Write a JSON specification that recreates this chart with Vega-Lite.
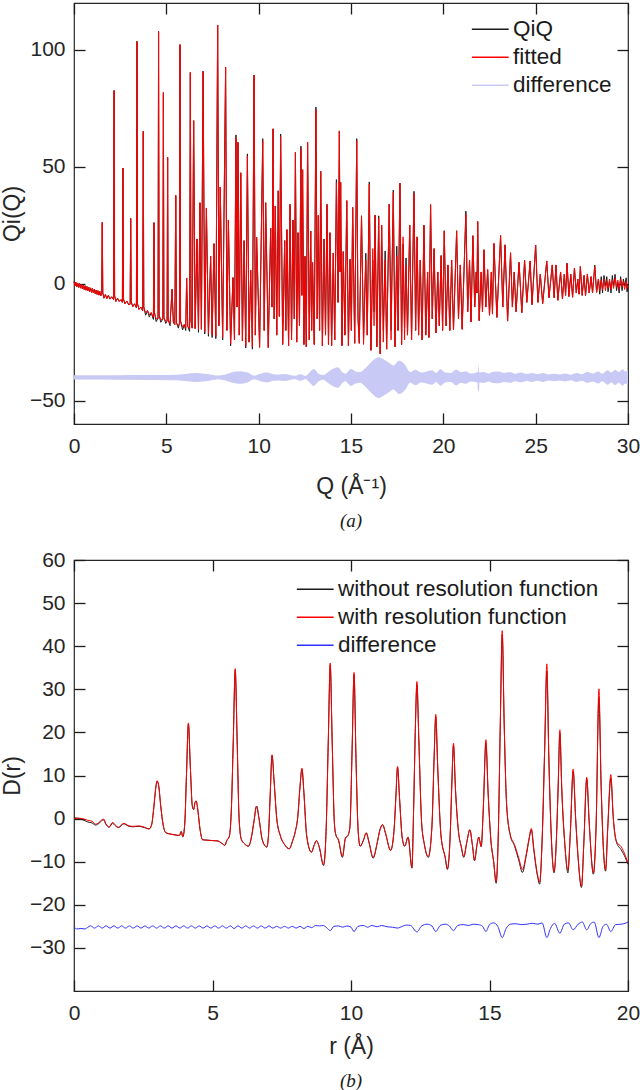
{
  "$schema": "https://vega.github.io/schema/vega-lite/v6.json",
  "background": "white",
  "padding": {"left": 0, "top": 1, "right": 0, "bottom": 0},
  "spacing": 16,
  "resolve": {"scale": {"color": "independent"}, "legend": {"color": "independent"}},
  "config": {
    "font": "Liberation Sans",
    "view": {"stroke": "#262626", "strokeWidth": 1.2},
    "axis": {
      "grid": false, "domain": false,
      "labelFont": "Liberation Sans", "labelFontSize": 21, "labelColor": "#262626",
      "labelOverlap": false, "labelFlush": false,
      "titleFont": "Liberation Sans", "titleFontSize": 23, "titleFontWeight": "normal", "titleColor": "#262626"
    },
    "axisX": {"labelPadding": 11},
    "axisY": {"labelPadding": 9},
    "legend": {
      "labelFont": "Liberation Sans", "labelFontSize": 22.5, "labelColor": "#1a1a1a", "labelLimit": 0,
      "symbolType": "M-4.6,0H4.6", "symbolSize": 64, "symbolStrokeWidth": 1.3,
      "labelOffset": 11.5, "rowPadding": 5, "padding": 0
    },
    "title": {"font": "Liberation Serif", "fontStyle": "italic", "fontWeight": "normal", "fontSize": 19, "color": "#1a1a1a"}
  },
  "vconcat": [
    {
      "width": 554,
      "height": 421,
      "title": {"text": "(a)", "orient": "bottom", "offset": 14},
      "resolve": {"axis": {"x": "independent", "y": "independent"}},
      "layer": [
        {
          "data": {"name": "qdiff"},
          "mark": {"type": "area", "interpolate": "monotone", "color": "#c9c9f6"},
          "encoding": {
            "x": {"field": "q", "type": "quantitative", "scale": {"domain": [0, 30]}, "axis": null},
            "y": {"field": "lo", "type": "quantitative", "scale": {"domain": [-55, 115]}, "axis": null},
            "y2": {"field": "hi"}
          }
        },
        {
          "data": {"name": "qdiff"},
          "mark": {"type": "line", "interpolate": "monotone", "strokeWidth": 1},
          "encoding": {
            "x": {"field": "q", "type": "quantitative", "axis": {"orient": "bottom", "offset": -11, "ticks": true, "tickSize": 11, "tickColor": "#1a1a1a", "tickWidth": 1.3, "labels": false, "title": null, "values": [0, 5, 10, 15, 20, 25, 30]}},
            "y": {"field": "lo", "type": "quantitative", "axis": {"orient": "left", "offset": -11, "ticks": true, "tickSize": 11, "tickColor": "#1a1a1a", "tickWidth": 1.3, "labels": false, "title": null, "values": [-50, 0, 50, 100]}},
            "color": {
              "datum": "difference", "type": "nominal",
              "scale": {"domain": ["QiQ", "fitted", "difference"], "range": ["#1a1a1a", "#ff0000", "#c9c9f6"]},
              "legend": {"title": null, "orient": "none", "legendX": 405, "legendY": 15}
            }
          }
        },
        {
          "data": {"name": "qiq"},
          "mark": {"type": "line", "strokeWidth": 1},
          "encoding": {
            "x": {"field": "q", "type": "quantitative", "axis": {"orient": "bottom", "ticks": false, "values": [0, 5, 10, 15, 20, 25, 30], "title": "Q (Å⁻¹)", "titlePadding": 19}},
            "y": {"field": "o", "type": "quantitative", "axis": {"orient": "left", "ticks": false, "values": [-50, 0, 50, 100], "title": "Qi(Q)", "titlePadding": 5}},
            "color": {"datum": "QiQ", "type": "nominal"}
          }
        },
        {
          "data": {"name": "qiq"},
          "mark": {"type": "line", "strokeWidth": 1},
          "encoding": {
            "x": {"field": "q", "type": "quantitative", "axis": {"orient": "top", "offset": -11, "ticks": true, "tickSize": 11, "tickColor": "#1a1a1a", "tickWidth": 1.3, "labels": false, "title": null, "values": [0, 5, 10, 15, 20, 25, 30]}},
            "y": {"field": "f", "type": "quantitative", "axis": {"orient": "right", "offset": -11, "ticks": true, "tickSize": 11, "tickColor": "#1a1a1a", "tickWidth": 1.3, "labels": false, "title": null, "values": [-50, 0, 50, 100]}},
            "color": {"datum": "fitted", "type": "nominal"}
          }
        }
      ]
    },
    {
      "width": 554,
      "height": 431,
      "title": {"text": "(b)", "orient": "bottom", "offset": 14},
      "resolve": {"axis": {"x": "independent", "y": "independent"}},
      "layer": [
        {
          "data": {"name": "dr"},
          "mark": {"type": "line", "interpolate": "monotone", "strokeWidth": 1},
          "encoding": {
            "x": {"field": "r", "type": "quantitative", "scale": {"domain": [0, 20]}, "axis": {"orient": "bottom", "ticks": false, "values": [0, 5, 10, 15, 20], "title": "r (Å)", "titlePadding": 12}},
            "y": {"field": "w", "type": "quantitative", "scale": {"domain": [-35, 60]}, "axis": {"orient": "left", "ticks": false, "values": [-30, -20, -10, 0, 10, 20, 30, 40, 50, 60], "title": "D(r)", "titlePadding": 5}},
            "color": {
              "datum": "without resolution function", "type": "nominal",
              "scale": {"domain": ["without resolution function", "with resolution function", "difference"], "range": ["#1a1a1a", "#ff0000", "#3030ff"]},
              "legend": {"title": null, "orient": "none", "legendX": 230, "legendY": 18}
            }
          }
        },
        {
          "data": {"name": "dr"},
          "mark": {"type": "line", "interpolate": "monotone", "strokeWidth": 1},
          "encoding": {
            "x": {"field": "r", "type": "quantitative", "axis": {"orient": "top", "offset": -11, "ticks": true, "tickSize": 11, "tickColor": "#1a1a1a", "tickWidth": 1.3, "labels": false, "title": null, "values": [0, 5, 10, 15, 20]}},
            "y": {"field": "d", "type": "quantitative", "axis": {"orient": "right", "offset": -11, "ticks": true, "tickSize": 11, "tickColor": "#1a1a1a", "tickWidth": 1.3, "labels": false, "title": null, "values": [-30, -20, -10, 0, 10, 20, 30, 40, 50, 60]}},
            "color": {"datum": "with resolution function", "type": "nominal"}
          }
        },
        {
          "data": {"name": "ddiff"},
          "mark": {"type": "line", "interpolate": "monotone", "strokeWidth": 1},
          "encoding": {
            "x": {"field": "r", "type": "quantitative", "axis": {"orient": "bottom", "offset": -11, "ticks": true, "tickSize": 11, "tickColor": "#1a1a1a", "tickWidth": 1.3, "labels": false, "title": null, "values": [0, 5, 10, 15, 20]}},
            "y": {"field": "v", "type": "quantitative", "axis": {"orient": "left", "offset": -11, "ticks": true, "tickSize": 11, "tickColor": "#1a1a1a", "tickWidth": 1.3, "labels": false, "title": null, "values": [-30, -20, -10, 0, 10, 20, 30, 40, 50, 60]}},
            "color": {"datum": "difference", "type": "nominal"}
          }
        }
      ]
    }
  ],
  "datasets": {
    "qiq": [
      {"q":0.00,"o":0.9,"f":0.9},{"q":0.05,"o":-1.0,"f":-1.0},{"q":0.10,"o":0.6,"f":0.6},{"q":0.15,"o":-1.3,"f":-1.3},
      {"q":0.20,"o":0.3,"f":0.3},{"q":0.25,"o":-1.6,"f":-1.6},{"q":0.30,"o":0.0,"f":0.0},{"q":0.35,"o":-1.9,"f":-1.9},
      {"q":0.40,"o":-0.3,"f":-0.3},{"q":0.45,"o":-2.2,"f":-2.2},{"q":0.50,"o":-0.6,"f":-0.6},{"q":0.55,"o":-2.5,"f":-2.5},
      {"q":0.60,"o":-0.9,"f":-0.9},{"q":0.65,"o":-2.8,"f":-2.8},{"q":0.70,"o":-1.2,"f":-1.2},{"q":0.75,"o":-3.1,"f":-3.1},
      {"q":0.80,"o":-1.5,"f":-1.5},{"q":0.85,"o":-3.4,"f":-3.4},{"q":0.90,"o":-1.8,"f":-1.8},{"q":0.95,"o":-3.7,"f":-3.7},
      {"q":1.00,"o":-2.1,"f":-2.1},{"q":1.05,"o":-4.0,"f":-4.0},{"q":1.10,"o":-2.4,"f":-2.4},{"q":1.15,"o":-4.3,"f":-4.3},
      {"q":1.20,"o":-2.7,"f":-2.7},{"q":1.25,"o":-4.6,"f":-4.6},{"q":1.30,"o":-3.0,"f":-3.0},{"q":1.35,"o":-4.9,"f":-4.9},
      {"q":1.40,"o":-3.3,"f":-3.3},{"q":1.45,"o":-5.2,"f":-5.2},
      {"q":1.50,"o":-4.2,"f":-4.2},{"q":1.53,"o":26.2,"f":26.2},{"q":1.56,"o":-3.8,"f":-3.8},{"q":1.62,"o":-6.2,"f":-6.2},
      {"q":1.70,"o":-4.6,"f":-4.6},{"q":1.78,"o":-6.4,"f":-6.4},{"q":1.86,"o":-5.0,"f":-5.0},{"q":1.95,"o":-6.6,"f":-6.6},
      {"q":2.04,"o":-5.6,"f":-5.6},{"q":2.14,"o":-6.8,"f":-6.8},{"q":2.17,"o":82.6,"f":82.6},{"q":2.20,"o":-5.2,"f":-5.2},
      {"q":2.27,"o":-7.6,"f":-7.6},{"q":2.36,"o":-6.2,"f":-6.2},{"q":2.45,"o":-7.6,"f":-7.6},{"q":2.55,"o":-6.8,"f":-6.8},
      {"q":2.62,"o":-8.0,"f":-8.0},{"q":2.65,"o":49.4,"f":49.4},{"q":2.68,"o":-6.6,"f":-6.6},{"q":2.76,"o":-8.6,"f":-8.6},
      {"q":2.86,"o":-7.4,"f":-7.4},{"q":2.96,"o":-9.0,"f":-9.0},{"q":3.04,"o":-8.8,"f":-8.8},{"q":3.07,"o":27.9,"f":27.9},
      {"q":3.10,"o":-7.8,"f":-7.8},{"q":3.18,"o":-9.8,"f":-9.8},{"q":3.28,"o":-8.6,"f":-8.6},{"q":3.38,"o":-10.3,"f":-10.3},
      {"q":3.41,"o":103.6,"f":103.6},{"q":3.44,"o":-8.6,"f":-8.6},{"q":3.52,"o":-11.0,"f":-11.0},{"q":3.62,"o":-10.0,"f":-10.0},
      {"q":3.72,"o":-11.6,"f":-11.6},{"q":3.75,"o":65.1,"f":65.1},{"q":3.78,"o":-10.0,"f":-10.0},{"q":3.88,"o":-13.5,"f":-12.5},
      {"q":3.98,"o":-11.5,"f":-11.5},{"q":4.08,"o":-14.3,"f":-13.3},{"q":4.18,"o":-12.4,"f":-12.4},{"q":4.30,"o":-15.3,"f":-14.3},
      {"q":4.33,"o":26.1,"f":26.1},{"q":4.36,"o":-12.5,"f":-12.5},{"q":4.45,"o":-16.2,"f":-15.0},{"q":4.55,"o":-14.8,"f":-14.8},
      {"q":4.58,"o":107.8,"f":107.8},{"q":4.61,"o":-13.5,"f":-13.5},{"q":4.70,"o":-16.5,"f":-15.5},{"q":4.81,"o":-15.2,"f":-15.2},
      {"q":4.84,"o":81.7,"f":81.7},{"q":4.87,"o":-14.5,"f":-14.5},{"q":4.97,"o":-17.0,"f":-16.2},{"q":5.04,"o":-16.0,"f":-16.0},
      {"q":5.07,"o":54.0,"f":54.0},{"q":5.10,"o":-15.5,"f":-15.5},{"q":5.20,"o":-18.0,"f":-17.0},{"q":5.31,"o":-2.4,"f":-2.4},
      {"q":5.38,"o":-16.5,"f":-16.5},{"q":5.46,"o":-17.5,"f":-17.5},{"q":5.51,"o":37.7,"f":37.7},{"q":5.55,"o":-16.8,"f":-16.8},
      {"q":5.65,"o":-19.0,"f":-18.0},{"q":5.71,"o":-17.0,"f":-17.0},{"q":5.74,"o":102.2,"f":102.2},{"q":5.77,"o":-16.0,"f":-16.0},
      {"q":5.88,"o":-19.8,"f":-18.6},{"q":5.97,"o":-17.5,"f":-17.5},{"q":6.05,"o":-20.0,"f":-19.0},{"q":6.10,"o":2.3,"f":2.3},
      {"q":6.16,"o":-18.2,"f":-18.2},{"q":6.26,"o":-20.4,"f":-19.4},{"q":6.30,"o":90.3,"f":90.3},{"q":6.34,"o":-16.0,"f":-16.0},
      {"q":6.40,"o":-19.0,"f":-19.0},{"q":6.48,"o":69.7,"f":69.7},{"q":6.56,"o":-19.2,"f":-19.2},{"q":6.66,"o":19.1,"f":19.1},
      {"q":6.74,"o":-20.8,"f":-19.8},{"q":6.82,"o":34.6,"f":34.6},{"q":6.90,"o":-19.5,"f":-19.5},{"q":6.99,"o":90.8,"f":90.8},
      {"q":7.08,"o":-21.5,"f":-20.5},{"q":7.17,"o":32.3,"f":32.3},{"q":7.28,"o":-22.5,"f":-21.5},{"q":7.40,"o":11.7,"f":11.7},
      {"q":7.48,"o":-23.0,"f":-21.8},{"q":7.58,"o":17.1,"f":17.1},{"q":7.68,"o":-23.5,"f":-22.5},{"q":7.78,"o":110.6,"f":110.6},
      {"q":7.85,"o":-18.0,"f":-18.0},{"q":7.92,"o":41.3,"f":41.3},{"q":8.05,"o":-24.0,"f":-23.0},{"q":8.21,"o":92.5,"f":92.5},
      {"q":8.28,"o":-20.0,"f":-20.0},{"q":8.36,"o":27.2,"f":27.2},{"q":8.48,"o":-26.6,"f":-25.8},{"q":8.61,"o":2.6,"f":2.6},
      {"q":8.69,"o":-24.0,"f":-24.0},{"q":8.77,"o":63.6,"f":62.4},{"q":8.83,"o":-10.0,"f":-10.0},{"q":8.88,"o":60.4,"f":60.4},
      {"q":8.95,"o":-22.0,"f":-22.0},{"q":9.03,"o":47.4,"f":47.4},{"q":9.12,"o":-24.5,"f":-24.5},{"q":9.21,"o":18.4,"f":18.4},
      {"q":9.30,"o":-27.5,"f":-26.5},{"q":9.39,"o":55.5,"f":54.5},{"q":9.48,"o":-25.0,"f":-25.0},{"q":9.57,"o":5.7,"f":5.7},
      {"q":9.66,"o":-28.0,"f":-27.0},{"q":9.75,"o":89.1,"f":89.1},{"q":9.82,"o":-22.0,"f":-22.0},{"q":9.89,"o":19.8,"f":19.8},
      {"q":10.05,"o":-27.2,"f":-27.2},{"q":10.22,"o":62.0,"f":61.1},{"q":10.30,"o":-20.0,"f":-20.0},{"q":10.38,"o":34.6,"f":34.6},
      {"q":10.52,"o":-27.3,"f":-27.3},{"q":10.65,"o":23.8,"f":23.8},{"q":10.72,"o":-10.0,"f":-10.0},{"q":10.78,"o":66.2,"f":66.2},
      {"q":10.84,"o":-15.0,"f":-15.0},{"q":10.90,"o":33.2,"f":33.2},{"q":10.98,"o":-22.0,"f":-22.0},{"q":11.06,"o":39.7,"f":39.7},
      {"q":11.12,"o":-14.0,"f":-14.0},{"q":11.19,"o":64.0,"f":62.9},{"q":11.30,"o":-26.0,"f":-26.0},{"q":11.41,"o":18.4,"f":18.4},
      {"q":11.47,"o":-20.0,"f":-20.0},{"q":11.53,"o":23.1,"f":23.1},{"q":11.62,"o":-26.5,"f":-26.5},{"q":11.70,"o":33.9,"f":33.9},
      {"q":11.78,"o":-24.0,"f":-24.0},{"q":11.86,"o":27.2,"f":27.2},{"q":11.93,"o":-15.0,"f":-15.0},{"q":11.99,"o":56.1,"f":56.1},
      {"q":12.06,"o":-25.0,"f":-25.0},{"q":12.13,"o":21.8,"f":21.8},{"q":12.21,"o":-18.0,"f":-18.0},{"q":12.29,"o":58.8,"f":57.7},
      {"q":12.34,"o":-5.0,"f":-5.0},{"q":12.38,"o":48.7,"f":48.7},{"q":12.45,"o":-26.0,"f":-26.0},{"q":12.51,"o":11.7,"f":11.7},
      {"q":12.58,"o":-27.0,"f":-27.0},{"q":12.65,"o":60.4,"f":60.4},{"q":12.74,"o":-24.0,"f":-24.0},{"q":12.82,"o":22.5,"f":22.5},
      {"q":12.87,"o":-20.0,"f":-20.0},{"q":12.92,"o":9.0,"f":9.0},{"q":13.01,"o":-26.0,"f":-26.0},{"q":13.10,"o":75.5,"f":74.3},
      {"q":13.17,"o":-15.0,"f":-15.0},{"q":13.23,"o":29.2,"f":29.2},{"q":13.30,"o":-20.0,"f":-20.0},{"q":13.36,"o":48.0,"f":48.0},
      {"q":13.45,"o":-26.5,"f":-26.5},{"q":13.54,"o":19.1,"f":19.1},{"q":13.62,"o":-22.0,"f":-22.0},{"q":13.70,"o":33.9,"f":33.9},
      {"q":13.78,"o":-26.0,"f":-26.0},{"q":13.86,"o":21.8,"f":21.8},{"q":13.95,"o":-26.5,"f":-26.5},{"q":14.04,"o":13.1,"f":13.1},
      {"q":14.12,"o":-24.0,"f":-24.0},{"q":14.21,"o":44.5,"f":43.3},{"q":14.30,"o":-8.0,"f":-8.0},{"q":14.37,"o":65.3,"f":65.3},
      {"q":14.41,"o":5.0,"f":5.0},{"q":14.44,"o":43.3,"f":43.3},{"q":14.51,"o":-26.5,"f":-26.5},{"q":14.58,"o":13.7,"f":13.7},
      {"q":14.67,"o":-22.0,"f":-22.0},{"q":14.77,"o":35.5,"f":35.5},{"q":14.86,"o":-26.5,"f":-26.5},{"q":14.95,"o":10.4,"f":10.4},
      {"q":15.02,"o":-20.0,"f":-20.0},{"q":15.09,"o":32.6,"f":32.6},{"q":15.20,"o":-25.5,"f":-25.5},{"q":15.31,"o":62.0,"f":61.2},
      {"q":15.38,"o":-15.0,"f":-15.0},{"q":15.45,"o":-25.5,"f":-25.5},{"q":15.57,"o":29.0,"f":29.0},{"q":15.68,"o":-24.0,"f":-26.0},
      {"q":15.80,"o":13.0,"f":10.0},{"q":15.88,"o":-22.0,"f":-22.0},{"q":15.99,"o":43.5,"f":42.5},{"q":16.08,"o":-28.5,"f":-28.5},
      {"q":16.18,"o":10.0,"f":15.0},{"q":16.25,"o":-12.0,"f":-18.0},{"q":16.30,"o":29.3,"f":29.3},{"q":16.40,"o":-27.0,"f":-27.0},
      {"q":16.50,"o":29.0,"f":28.2},{"q":16.58,"o":-30.0,"f":-30.0},{"q":16.66,"o":25.0,"f":25.0},{"q":16.75,"o":-20.0,"f":-25.0},
      {"q":16.85,"o":14.0,"f":10.0},{"q":16.93,"o":-28.0,"f":-28.0},{"q":17.07,"o":34.0,"f":34.0},{"q":17.17,"o":-20.0,"f":-24.0},
      {"q":17.29,"o":40.0,"f":39.0},{"q":17.38,"o":-27.0,"f":-27.0},{"q":17.48,"o":16.0,"f":12.0},{"q":17.55,"o":-20.0,"f":-20.0},
      {"q":17.65,"o":43.0,"f":43.0},{"q":17.74,"o":-26.0,"f":-26.0},{"q":17.82,"o":17.0,"f":20.0},{"q":17.90,"o":-19.0,"f":-24.0},
      {"q":17.98,"o":11.0,"f":8.0},{"q":18.06,"o":-22.0,"f":-22.0},{"q":18.18,"o":25.0,"f":25.0},{"q":18.28,"o":-24.0,"f":-24.0},
      {"q":18.41,"o":39.5,"f":38.5},{"q":18.50,"o":-20.0,"f":-20.0},{"q":18.58,"o":20.0,"f":20.0},{"q":18.66,"o":-22.0,"f":-22.0},
      {"q":18.75,"o":10.0,"f":10.0},{"q":18.85,"o":-24.0,"f":-24.0},{"q":18.95,"o":25.0,"f":25.0},{"q":19.05,"o":-22.0,"f":-22.0},
      {"q":19.15,"o":5.0,"f":5.0},{"q":19.22,"o":-23.0,"f":-23.0},{"q":19.31,"o":33.8,"f":33.8},{"q":19.40,"o":-15.0,"f":-15.0},
      {"q":19.50,"o":15.0,"f":15.0},{"q":19.60,"o":-21.0,"f":-21.0},{"q":19.70,"o":5.0,"f":5.0},{"q":19.78,"o":-18.0,"f":-18.0},
      {"q":19.88,"o":12.0,"f":12.0},{"q":19.96,"o":-20.0,"f":-20.0},{"q":20.05,"o":22.6,"f":22.6},{"q":20.15,"o":-18.0,"f":-18.0},
      {"q":20.25,"o":8.0,"f":8.0},{"q":20.35,"o":-20.0,"f":-20.0},{"q":20.45,"o":10.0,"f":10.0},{"q":20.55,"o":-19.8,"f":-19.8},
      {"q":20.72,"o":22.6,"f":22.6},{"q":20.82,"o":-15.0,"f":-15.0},{"q":20.92,"o":8.0,"f":8.0},{"q":21.02,"o":-19.5,"f":-19.5},
      {"q":21.22,"o":31.0,"f":29.6},{"q":21.32,"o":-12.0,"f":-12.0},{"q":21.42,"o":10.0,"f":10.0},{"q":21.50,"o":-16.4,"f":-16.4},
      {"q":21.60,"o":20.5,"f":20.5},{"q":21.70,"o":-10.0,"f":-10.0},{"q":21.78,"o":5.0,"f":5.0},{"q":21.82,"o":-4.0,"f":-4.0},
      {"q":21.86,"o":26.6,"f":26.6},{"q":21.94,"o":-15.8,"f":-15.8},{"q":22.05,"o":5.0,"f":5.0},{"q":22.12,"o":-12.0,"f":-12.0},
      {"q":22.20,"o":14.5,"f":14.5},{"q":22.30,"o":-10.0,"f":-10.0},{"q":22.40,"o":6.0,"f":6.0},{"q":22.50,"o":-13.5,"f":-13.5},
      {"q":22.60,"o":5.0,"f":5.0},{"q":22.66,"o":-13.0,"f":-13.0},{"q":22.74,"o":17.2,"f":17.2},{"q":22.90,"o":-14.4,"f":-14.4},
      {"q":23.10,"o":20.6,"f":20.6},{"q":23.22,"o":-10.0,"f":-10.0},{"q":23.34,"o":16.6,"f":16.6},{"q":23.48,"o":-16.0,"f":-16.0},
      {"q":23.64,"o":13.2,"f":13.2},{"q":23.74,"o":-10.0,"f":-10.0},{"q":23.84,"o":5.0,"f":5.0},{"q":23.94,"o":-12.0,"f":-12.0},
      {"q":24.10,"o":9.1,"f":9.1},{"q":24.25,"o":-12.4,"f":-12.4},{"q":24.40,"o":10.0,"f":10.0},{"q":24.52,"o":-8.0,"f":-8.0},
      {"q":24.70,"o":9.7,"f":9.7},{"q":24.80,"o":-9.0,"f":-9.0},{"q":25.00,"o":16.5,"f":16.5},{"q":25.12,"o":-8.0,"f":-8.0},
      {"q":25.25,"o":4.0,"f":4.0},{"q":25.38,"o":-8.5,"f":-8.5},{"q":25.60,"o":9.7,"f":9.7},{"q":25.72,"o":-6.0,"f":-6.0},
      {"q":25.90,"o":8.0,"f":8.0},{"q":26.00,"o":-6.0,"f":-6.0},{"q":26.10,"o":8.0,"f":8.0},{"q":26.20,"o":-7.1,"f":-7.1},
      {"q":26.35,"o":5.0,"f":5.0},{"q":26.45,"o":-6.5,"f":-6.5},{"q":26.55,"o":4.0,"f":4.0},{"q":26.62,"o":-5.0,"f":-5.0},
      {"q":26.70,"o":8.7,"f":8.7},{"q":26.80,"o":-5.5,"f":-5.5},{"q":26.90,"o":4.0,"f":4.0},{"q":27.00,"o":-5.8,"f":-5.8},
      {"q":27.10,"o":6.7,"f":6.7},{"q":27.20,"o":-4.0,"f":-4.0},{"q":27.28,"o":2.0,"f":2.0},{"q":27.35,"o":-4.5,"f":-4.5},
      {"q":27.42,"o":7.3,"f":7.3},{"q":27.52,"o":-5.0,"f":-5.0},{"q":27.62,"o":3.5,"f":3.5},{"q":27.70,"o":-5.1,"f":-5.1},
      {"q":27.80,"o":4.0,"f":4.0},{"q":27.90,"o":-4.0,"f":-4.0},{"q":28.00,"o":3.0,"f":3.0},{"q":28.08,"o":-4.0,"f":-4.0},
      {"q":28.20,"o":8.0,"f":7.3},{"q":28.30,"o":-3.7,"f":-3.7},{"q":28.40,"o":2.0,"f":2.0},{"q":28.47,"o":-4.5,"f":-3.0},
      {"q":28.55,"o":3.0,"f":1.5},{"q":28.62,"o":-4.0,"f":-2.5},{"q":28.70,"o":3.5,"f":2.0},{"q":28.78,"o":-1.0,"f":-3.0},
      {"q":28.85,"o":3.0,"f":1.0},{"q":28.92,"o":-3.5,"f":-2.0},{"q":29.00,"o":1.0,"f":2.0},{"q":29.08,"o":-4.0,"f":-2.5},
      {"q":29.15,"o":3.5,"f":1.5},{"q":29.22,"o":-1.0,"f":-2.0},{"q":29.30,"o":4.0,"f":2.5},{"q":29.38,"o":-3.0,"f":-1.5},
      {"q":29.45,"o":0.5,"f":1.5},{"q":29.52,"o":-4.0,"f":-2.5},{"q":29.60,"o":3.0,"f":2.0},{"q":29.68,"o":-3.0,"f":-1.5},
      {"q":29.75,"o":2.0,"f":1.0},{"q":29.82,"o":-1.0,"f":-2.5},{"q":29.90,"o":2.5,"f":1.0},{"q":29.95,"o":-3.5,"f":-2.0},
      {"q":30.00,"o":-0.5,"f":-1.0}
    ],
    "qdiff": [
      {"q":0.0,"lo":-40.8,"hi":-39.2},{"q":1.5,"lo":-40.8,"hi":-39.2},{"q":3.0,"lo":-40.9,"hi":-39.1},{"q":4.5,"lo":-41.0,"hi":-39.0},
      {"q":5.5,"lo":-41.1,"hi":-38.9},{"q":6.0,"lo":-41.4,"hi":-38.6},{"q":6.6,"lo":-41.8,"hi":-38.2},{"q":7.3,"lo":-41.3,"hi":-38.7},
      {"q":7.8,"lo":-40.7,"hi":-39.3},{"q":8.2,"lo":-41.2,"hi":-38.8},{"q":8.6,"lo":-42.2,"hi":-37.8},{"q":9.0,"lo":-42.6,"hi":-37.4},
      {"q":9.4,"lo":-42.0,"hi":-38.0},{"q":9.75,"lo":-40.7,"hi":-39.3},{"q":10.1,"lo":-41.5,"hi":-38.5},{"q":10.45,"lo":-42.0,"hi":-38.0},
      {"q":10.8,"lo":-41.3,"hi":-38.7},{"q":11.1,"lo":-41.2,"hi":-38.8},{"q":11.4,"lo":-41.4,"hi":-38.6},{"q":11.7,"lo":-41.0,"hi":-39.0},
      {"q":11.95,"lo":-40.6,"hi":-39.4},{"q":12.25,"lo":-41.3,"hi":-38.7},{"q":12.55,"lo":-40.6,"hi":-39.4},{"q":12.75,"lo":-42.0,"hi":-38.0},
      {"q":12.98,"lo":-43.5,"hi":-36.5},{"q":13.25,"lo":-41.5,"hi":-38.5},{"q":13.5,"lo":-40.9,"hi":-39.1},{"q":13.8,"lo":-42.5,"hi":-37.5},
      {"q":14.0,"lo":-43.5,"hi":-36.5},{"q":14.3,"lo":-44.3,"hi":-35.7},{"q":14.55,"lo":-42.0,"hi":-38.0},{"q":14.7,"lo":-41.5,"hi":-38.5},
      {"q":15.0,"lo":-43.5,"hi":-36.5},{"q":15.25,"lo":-42.5,"hi":-37.5},{"q":15.5,"lo":-42.2,"hi":-37.8},{"q":15.8,"lo":-44.0,"hi":-36.0},
      {"q":16.1,"lo":-46.5,"hi":-33.5},{"q":16.5,"lo":-48.7,"hi":-31.5},{"q":16.8,"lo":-47.5,"hi":-32.5},{"q":17.1,"lo":-46.0,"hi":-34.0},
      {"q":17.3,"lo":-45.0,"hi":-35.0},{"q":17.6,"lo":-47.0,"hi":-33.0},{"q":17.9,"lo":-45.5,"hi":-34.5},{"q":18.2,"lo":-42.2,"hi":-37.8},
      {"q":18.5,"lo":-43.2,"hi":-36.8},{"q":18.8,"lo":-42.0,"hi":-38.0},{"q":19.1,"lo":-42.5,"hi":-37.5},{"q":19.4,"lo":-43.0,"hi":-37.0},
      {"q":19.6,"lo":-41.8,"hi":-38.2},{"q":19.85,"lo":-43.4,"hi":-36.6},{"q":20.1,"lo":-42.0,"hi":-38.0},{"q":20.4,"lo":-41.8,"hi":-38.2},
      {"q":20.7,"lo":-43.3,"hi":-36.7},{"q":20.95,"lo":-42.2,"hi":-37.8},{"q":21.2,"lo":-42.6,"hi":-37.4},{"q":21.5,"lo":-41.6,"hi":-38.4},
      {"q":21.8,"lo":-42.0,"hi":-38.0},{"q":21.87,"lo":-42.2,"hi":-37.8},{"q":21.9,"lo":-45.8,"hi":-34.2},{"q":21.93,"lo":-42.0,"hi":-38.0},
      {"q":22.2,"lo":-42.2,"hi":-37.8},{"q":22.45,"lo":-41.6,"hi":-38.4},{"q":22.7,"lo":-42.3,"hi":-37.7},{"q":23.0,"lo":-42.4,"hi":-37.6},
      {"q":23.3,"lo":-41.8,"hi":-38.2},{"q":23.6,"lo":-42.2,"hi":-37.8},{"q":23.9,"lo":-41.5,"hi":-38.5},{"q":24.2,"lo":-42.0,"hi":-38.0},
      {"q":24.5,"lo":-41.4,"hi":-38.6},{"q":24.8,"lo":-41.8,"hi":-38.2},{"q":25.1,"lo":-41.3,"hi":-38.7},{"q":25.4,"lo":-41.8,"hi":-38.2},
      {"q":25.7,"lo":-41.2,"hi":-38.8},{"q":26.0,"lo":-41.5,"hi":-38.5},{"q":26.3,"lo":-41.2,"hi":-38.8},{"q":26.6,"lo":-41.6,"hi":-38.4},
      {"q":26.9,"lo":-41.1,"hi":-38.9},{"q":27.2,"lo":-41.8,"hi":-38.2},{"q":27.5,"lo":-41.3,"hi":-38.7},{"q":27.8,"lo":-42.2,"hi":-37.8},
      {"q":28.1,"lo":-41.6,"hi":-38.4},{"q":28.4,"lo":-42.5,"hi":-37.5},{"q":28.6,"lo":-41.5,"hi":-38.5},{"q":28.9,"lo":-43.0,"hi":-37.0},
      {"q":29.1,"lo":-42.0,"hi":-38.0},{"q":29.3,"lo":-43.2,"hi":-36.8},{"q":29.5,"lo":-42.2,"hi":-37.8},{"q":29.7,"lo":-43.4,"hi":-36.6},
      {"q":29.85,"lo":-42.5,"hi":-37.5},{"q":30.0,"lo":-43.0,"hi":-37.0}
    ],
    "dr": [
      {"r":0.00,"w":0.2,"d":0.0},{"r":0.20,"w":0.0,"d":0.1},{"r":0.40,"w":-0.5,"d":-0.2},{"r":0.50,"w":-0.8,"d":-0.4},
      {"r":0.65,"w":-1.0,"d":-0.6},{"r":0.78,"w":-1.5,"d":-1.3},{"r":0.90,"w":-1.1,"d":-0.9},{"r":1.00,"w":-0.5,"d":-0.3},
      {"r":1.07,"w":-0.3,"d":-0.1},{"r":1.15,"w":-1.3,"d":-1.2},{"r":1.27,"w":-2.0,"d":-1.9},{"r":1.39,"w":-1.1,"d":-0.9},
      {"r":1.50,"w":-1.7,"d":-1.5},{"r":1.60,"w":-2.1,"d":-2.0},{"r":1.80,"w":-1.2,"d":-1.1},{"r":1.95,"w":-1.7,"d":-1.6},
      {"r":2.10,"w":-1.9,"d":-1.8},{"r":2.34,"w":-1.8,"d":-1.7},{"r":2.55,"w":-2.1,"d":-2.0},{"r":2.71,"w":-2.4,"d":-2.4},
      {"r":2.80,"w":-1.5,"d":-1.5},{"r":2.88,"w":2.5,"d":2.5},{"r":2.95,"w":7.0,"d":7.0},{"r":3.00,"w":8.7,"d":8.8},
      {"r":3.06,"w":7.5,"d":7.5},{"r":3.13,"w":3.0,"d":3.0},{"r":3.22,"w":-1.5,"d":-1.5},{"r":3.32,"w":-3.3,"d":-3.3},
      {"r":3.50,"w":-3.6,"d":-3.6},{"r":3.65,"w":-3.8,"d":-3.8},{"r":3.81,"w":-3.9,"d":-3.9},{"r":3.87,"w":-3.0,"d":-3.0},
      {"r":3.93,"w":-4.2,"d":-4.2},{"r":4.00,"w":-1.0,"d":-1.0},{"r":4.06,"w":10.0,"d":10.0},{"r":4.13,"w":21.9,"d":22.2},
      {"r":4.20,"w":12.0,"d":12.0},{"r":4.27,"w":3.0,"d":3.0},{"r":4.32,"w":2.1,"d":2.1},{"r":4.37,"w":3.8,"d":3.8},
      {"r":4.41,"w":4.1,"d":4.1},{"r":4.46,"w":2.5,"d":2.5},{"r":4.55,"w":-2.5,"d":-2.5},{"r":4.64,"w":-4.9,"d":-4.9},
      {"r":4.80,"w":-5.0,"d":-5.0},{"r":5.00,"w":-5.1,"d":-5.1},{"r":5.20,"w":-5.2,"d":-5.2},{"r":5.35,"w":-5.8,"d":-5.8},
      {"r":5.45,"w":-6.2,"d":-6.2},{"r":5.52,"w":-5.0,"d":-5.0},{"r":5.60,"w":-4.3,"d":-4.3},{"r":5.68,"w":2.0,"d":2.0},
      {"r":5.75,"w":18.0,"d":18.0},{"r":5.82,"w":34.4,"d":34.8},{"r":5.89,"w":18.0,"d":18.0},{"r":5.96,"w":0.0,"d":0.0},
      {"r":6.04,"w":-4.8,"d":-4.8},{"r":6.15,"w":-5.8,"d":-5.8},{"r":6.30,"w":-6.4,"d":-6.4},{"r":6.40,"w":-4.5,"d":-4.5},
      {"r":6.50,"w":-0.5,"d":-0.5},{"r":6.59,"w":2.9,"d":2.9},{"r":6.68,"w":0.0,"d":0.0},{"r":6.80,"w":-5.0,"d":-5.0},
      {"r":6.96,"w":-6.6,"d":-6.6},{"r":7.02,"w":-4.0,"d":-4.0},{"r":7.08,"w":5.0,"d":5.0},{"r":7.15,"w":14.6,"d":14.8},
      {"r":7.22,"w":9.0,"d":9.0},{"r":7.32,"w":0.0,"d":0.0},{"r":7.45,"w":-4.0,"d":-4.0},{"r":7.60,"w":-6.0,"d":-6.0},
      {"r":7.77,"w":-7.0,"d":-7.0},{"r":7.90,"w":-5.0,"d":-5.0},{"r":7.99,"w":-3.0,"d":-3.0},{"r":8.08,"w":0.5,"d":0.5},
      {"r":8.16,"w":7.5,"d":7.5},{"r":8.23,"w":11.5,"d":11.7},{"r":8.30,"w":6.0,"d":6.0},{"r":8.40,"w":-4.0,"d":-4.0},
      {"r":8.57,"w":-7.8,"d":-7.8},{"r":8.68,"w":-6.0,"d":-6.0},{"r":8.75,"w":-5.1,"d":-5.1},{"r":8.85,"w":-6.5,"d":-6.5},
      {"r":9.01,"w":-10.9,"d":-10.7},{"r":9.10,"w":-3.0,"d":-3.0},{"r":9.18,"w":18.0,"d":18.0},{"r":9.25,"w":35.6,"d":36.1},
      {"r":9.32,"w":18.0,"d":18.0},{"r":9.40,"w":-1.0,"d":-1.0},{"r":9.45,"w":-3.7,"d":-3.7},{"r":9.55,"w":-5.0,"d":-5.0},
      {"r":9.69,"w":-9.0,"d":-8.8},{"r":9.80,"w":-4.5,"d":-4.5},{"r":9.89,"w":-3.9,"d":-3.9},{"r":9.96,"w":-2.0,"d":-2.0},
      {"r":10.04,"w":16.0,"d":16.0},{"r":10.11,"w":33.4,"d":33.9},{"r":10.18,"w":14.0,"d":14.0},{"r":10.26,"w":-3.0,"d":-3.0},
      {"r":10.33,"w":-6.4,"d":-6.4},{"r":10.45,"w":-5.0,"d":-5.0},{"r":10.55,"w":-3.3,"d":-3.3},{"r":10.65,"w":-5.5,"d":-5.5},
      {"r":10.80,"w":-9.2,"d":-9.0},{"r":10.95,"w":-5.5,"d":-5.5},{"r":11.05,"w":-2.5,"d":-2.5},{"r":11.14,"w":-1.4,"d":-1.4},
      {"r":11.25,"w":-3.5,"d":-3.5},{"r":11.43,"w":-7.4,"d":-7.4},{"r":11.55,"w":-3.0,"d":-3.0},{"r":11.62,"w":5.0,"d":5.0},
      {"r":11.68,"w":11.9,"d":12.1},{"r":11.75,"w":5.0,"d":5.0},{"r":11.85,"w":-4.5,"d":-4.5},{"r":11.94,"w":-6.4,"d":-6.4},
      {"r":12.06,"w":-4.3,"d":-4.3},{"r":12.20,"w":-11.5,"d":-11.3},{"r":12.26,"w":2.0,"d":2.0},{"r":12.32,"w":20.0,"d":20.0},
      {"r":12.38,"w":31.2,"d":31.8},{"r":12.45,"w":18.0,"d":18.0},{"r":12.55,"w":-1.0,"d":-1.0},{"r":12.65,"w":-6.0,"d":-6.0},
      {"r":12.79,"w":-9.0,"d":-8.8},{"r":12.92,"w":-2.0,"d":-2.0},{"r":13.00,"w":14.0,"d":14.0},{"r":13.06,"w":23.6,"d":24.2},
      {"r":13.13,"w":12.0,"d":12.0},{"r":13.25,"w":-4.0,"d":-4.0},{"r":13.40,"w":-9.0,"d":-9.0},{"r":13.48,"w":-11.8,"d":-11.6},
      {"r":13.58,"w":-4.0,"d":-4.0},{"r":13.64,"w":8.0,"d":8.0},{"r":13.70,"w":17.0,"d":17.5},{"r":13.77,"w":7.0,"d":7.0},
      {"r":13.88,"w":-3.0,"d":-3.0},{"r":13.98,"w":-6.5,"d":-6.5},{"r":14.07,"w":-9.0,"d":-8.8},{"r":14.18,"w":-5.5,"d":-5.5},
      {"r":14.29,"w":-2.6,"d":-2.6},{"r":14.38,"w":-6.0,"d":-6.0},{"r":14.46,"w":-9.8,"d":-9.6},{"r":14.55,"w":-6.0,"d":-6.0},
      {"r":14.61,"w":-4.3,"d":-4.3},{"r":14.70,"w":-6.5,"d":-6.5},{"r":14.78,"w":3.0,"d":3.0},{"r":14.87,"w":17.6,"d":18.3},
      {"r":14.95,"w":6.0,"d":6.0},{"r":15.05,"w":-5.0,"d":-5.0},{"r":15.15,"w":-10.0,"d":-10.0},{"r":15.24,"w":-15.0,"d":-14.7},
      {"r":15.32,"w":-3.0,"d":-3.0},{"r":15.39,"w":22.0,"d":22.0},{"r":15.46,"w":42.8,"d":43.6},{"r":15.53,"w":22.0,"d":22.0},
      {"r":15.62,"w":3.0,"d":3.0},{"r":15.75,"w":-3.9,"d":-3.7},{"r":15.90,"w":-6.3,"d":-6.0},{"r":16.05,"w":-9.5,"d":-9.0},
      {"r":16.19,"w":-12.5,"d":-11.8},{"r":16.32,"w":-8.8,"d":-8.5},{"r":16.43,"w":-4.8,"d":-4.5},{"r":16.51,"w":-2.6,"d":-2.3},
      {"r":16.60,"w":-7.3,"d":-7.0},{"r":16.72,"w":-12.9,"d":-12.5},{"r":16.81,"w":-15.2,"d":-14.7},{"r":16.90,"w":-5.0,"d":-5.0},
      {"r":16.99,"w":15.5,"d":16.0},{"r":17.07,"w":34.2,"d":35.9},{"r":17.14,"w":14.5,"d":15.0},{"r":17.23,"w":-4.0,"d":-4.0},
      {"r":17.33,"w":-12.6,"d":-12.3},{"r":17.42,"w":-4.0,"d":-4.0},{"r":17.48,"w":7.5,"d":8.0},{"r":17.54,"w":19.8,"d":20.6},
      {"r":17.61,"w":6.5,"d":7.0},{"r":17.72,"w":-6.0,"d":-6.0},{"r":17.83,"w":-12.6,"d":-11.9},{"r":17.92,"w":-3.0,"d":-3.0},
      {"r":18.02,"w":11.0,"d":11.5},{"r":18.11,"w":0.0,"d":0.0},{"r":18.20,"w":-9.3,"d":-9.0},{"r":18.32,"w":-16.0,"d":-15.7},
      {"r":18.41,"w":-5.0,"d":-5.0},{"r":18.51,"w":9.2,"d":9.6},{"r":18.60,"w":-1.0,"d":-1.0},{"r":18.75,"w":-12.9,"d":-12.6},
      {"r":18.85,"w":-1.5,"d":-1.0},{"r":18.95,"w":28.0,"d":30.1},{"r":19.03,"w":7.5,"d":8.0},{"r":19.12,"w":-8.0,"d":-8.0},
      {"r":19.19,"w":-12.2,"d":-11.9},{"r":19.27,"w":-2.0,"d":-2.0},{"r":19.38,"w":9.4,"d":10.2},{"r":19.47,"w":0.0,"d":0.0},
      {"r":19.59,"w":-5.6,"d":-5.4},{"r":19.75,"w":-7.2,"d":-6.5},{"r":19.90,"w":-9.0,"d":-8.5},{"r":20.00,"w":-10.6,"d":-10.3}
    ],
    "ddiff": [
      {"r":0.00,"v":-25.1},{"r":0.10,"v":-25.6},{"r":0.25,"v":-25.5},{"r":0.40,"v":-25.6},{"r":0.50,"v":-25.2},
      {"r":0.60,"v":-24.9},{"r":0.74,"v":-25.4},{"r":0.88,"v":-24.9},{"r":1.02,"v":-25.4},{"r":1.16,"v":-24.9},
      {"r":1.30,"v":-25.4},{"r":1.44,"v":-24.9},{"r":1.58,"v":-25.4},{"r":1.72,"v":-24.9},{"r":1.86,"v":-25.4},
      {"r":2.00,"v":-24.9},{"r":2.14,"v":-25.4},{"r":2.28,"v":-24.9},{"r":2.42,"v":-25.4},{"r":2.56,"v":-24.9},
      {"r":2.70,"v":-25.4},{"r":2.84,"v":-24.9},{"r":2.98,"v":-25.4},{"r":3.12,"v":-24.9},{"r":3.26,"v":-25.4},
      {"r":3.40,"v":-24.9},{"r":3.54,"v":-25.4},{"r":3.68,"v":-24.9},{"r":3.82,"v":-25.4},{"r":3.96,"v":-24.9},
      {"r":4.10,"v":-25.4},{"r":4.24,"v":-24.9},{"r":4.38,"v":-25.4},{"r":4.52,"v":-24.9},{"r":4.66,"v":-25.4},
      {"r":4.80,"v":-24.9},{"r":4.94,"v":-25.4},{"r":5.08,"v":-24.9},{"r":5.22,"v":-25.4},{"r":5.36,"v":-24.9},
      {"r":5.50,"v":-25.4},{"r":5.64,"v":-24.9},{"r":5.78,"v":-25.5},{"r":5.92,"v":-24.9},{"r":6.06,"v":-25.4},
      {"r":6.20,"v":-24.9},{"r":6.34,"v":-25.4},{"r":6.48,"v":-24.9},{"r":6.62,"v":-25.4},{"r":6.76,"v":-24.9},
      {"r":6.90,"v":-25.4},{"r":7.04,"v":-24.9},{"r":7.18,"v":-25.4},{"r":7.32,"v":-25.0},{"r":7.46,"v":-25.4},
      {"r":7.60,"v":-25.0},{"r":7.74,"v":-25.4},{"r":7.88,"v":-25.0},{"r":8.02,"v":-25.4},{"r":8.16,"v":-25.0},
      {"r":8.30,"v":-25.5},{"r":8.44,"v":-25.0},{"r":8.58,"v":-25.3},{"r":8.72,"v":-24.8},{"r":8.86,"v":-24.9},
      {"r":9.00,"v":-24.8},{"r":9.12,"v":-25.3},{"r":9.25,"v":-26.0},{"r":9.38,"v":-25.0},{"r":9.55,"v":-24.9},
      {"r":9.70,"v":-25.2},{"r":9.85,"v":-24.9},{"r":10.00,"v":-25.2},{"r":10.11,"v":-26.2},{"r":10.25,"v":-25.0},
      {"r":10.45,"v":-24.8},{"r":10.60,"v":-25.2},{"r":10.75,"v":-24.8},{"r":10.95,"v":-25.1},{"r":11.10,"v":-24.8},
      {"r":11.30,"v":-25.1},{"r":11.50,"v":-25.2},{"r":11.68,"v":-25.4},{"r":11.85,"v":-25.0},{"r":12.00,"v":-24.7},
      {"r":12.15,"v":-24.8},{"r":12.38,"v":-26.3},{"r":12.55,"v":-24.9},{"r":12.75,"v":-24.5},{"r":12.92,"v":-24.9},
      {"r":13.06,"v":-26.2},{"r":13.22,"v":-24.8},{"r":13.40,"v":-24.5},{"r":13.55,"v":-24.9},{"r":13.70,"v":-26.0},
      {"r":13.85,"v":-24.8},{"r":14.05,"v":-24.6},{"r":14.25,"v":-24.8},{"r":14.40,"v":-24.5},{"r":14.60,"v":-24.6},
      {"r":14.75,"v":-25.0},{"r":14.87,"v":-26.2},{"r":15.00,"v":-24.6},{"r":15.15,"v":-24.2},{"r":15.30,"v":-25.0},
      {"r":15.46,"v":-27.6},{"r":15.60,"v":-25.5},{"r":15.75,"v":-24.5},{"r":15.95,"v":-24.4},{"r":16.15,"v":-24.6},
      {"r":16.35,"v":-24.5},{"r":16.55,"v":-24.3},{"r":16.75,"v":-24.5},{"r":16.90,"v":-24.2},{"r":17.07,"v":-27.6},
      {"r":17.20,"v":-25.5},{"r":17.35,"v":-24.3},{"r":17.54,"v":-26.6},{"r":17.70,"v":-24.5},{"r":17.85,"v":-24.2},
      {"r":18.02,"v":-25.8},{"r":18.20,"v":-24.5},{"r":18.35,"v":-24.0},{"r":18.51,"v":-25.8},{"r":18.65,"v":-24.4},
      {"r":18.78,"v":-24.0},{"r":18.95,"v":-27.6},{"r":19.10,"v":-25.0},{"r":19.22,"v":-24.5},{"r":19.38,"v":-26.2},
      {"r":19.55,"v":-24.6},{"r":19.75,"v":-24.5},{"r":19.90,"v":-24.3},{"r":20.00,"v":-24.0}
    ]
  }
}
